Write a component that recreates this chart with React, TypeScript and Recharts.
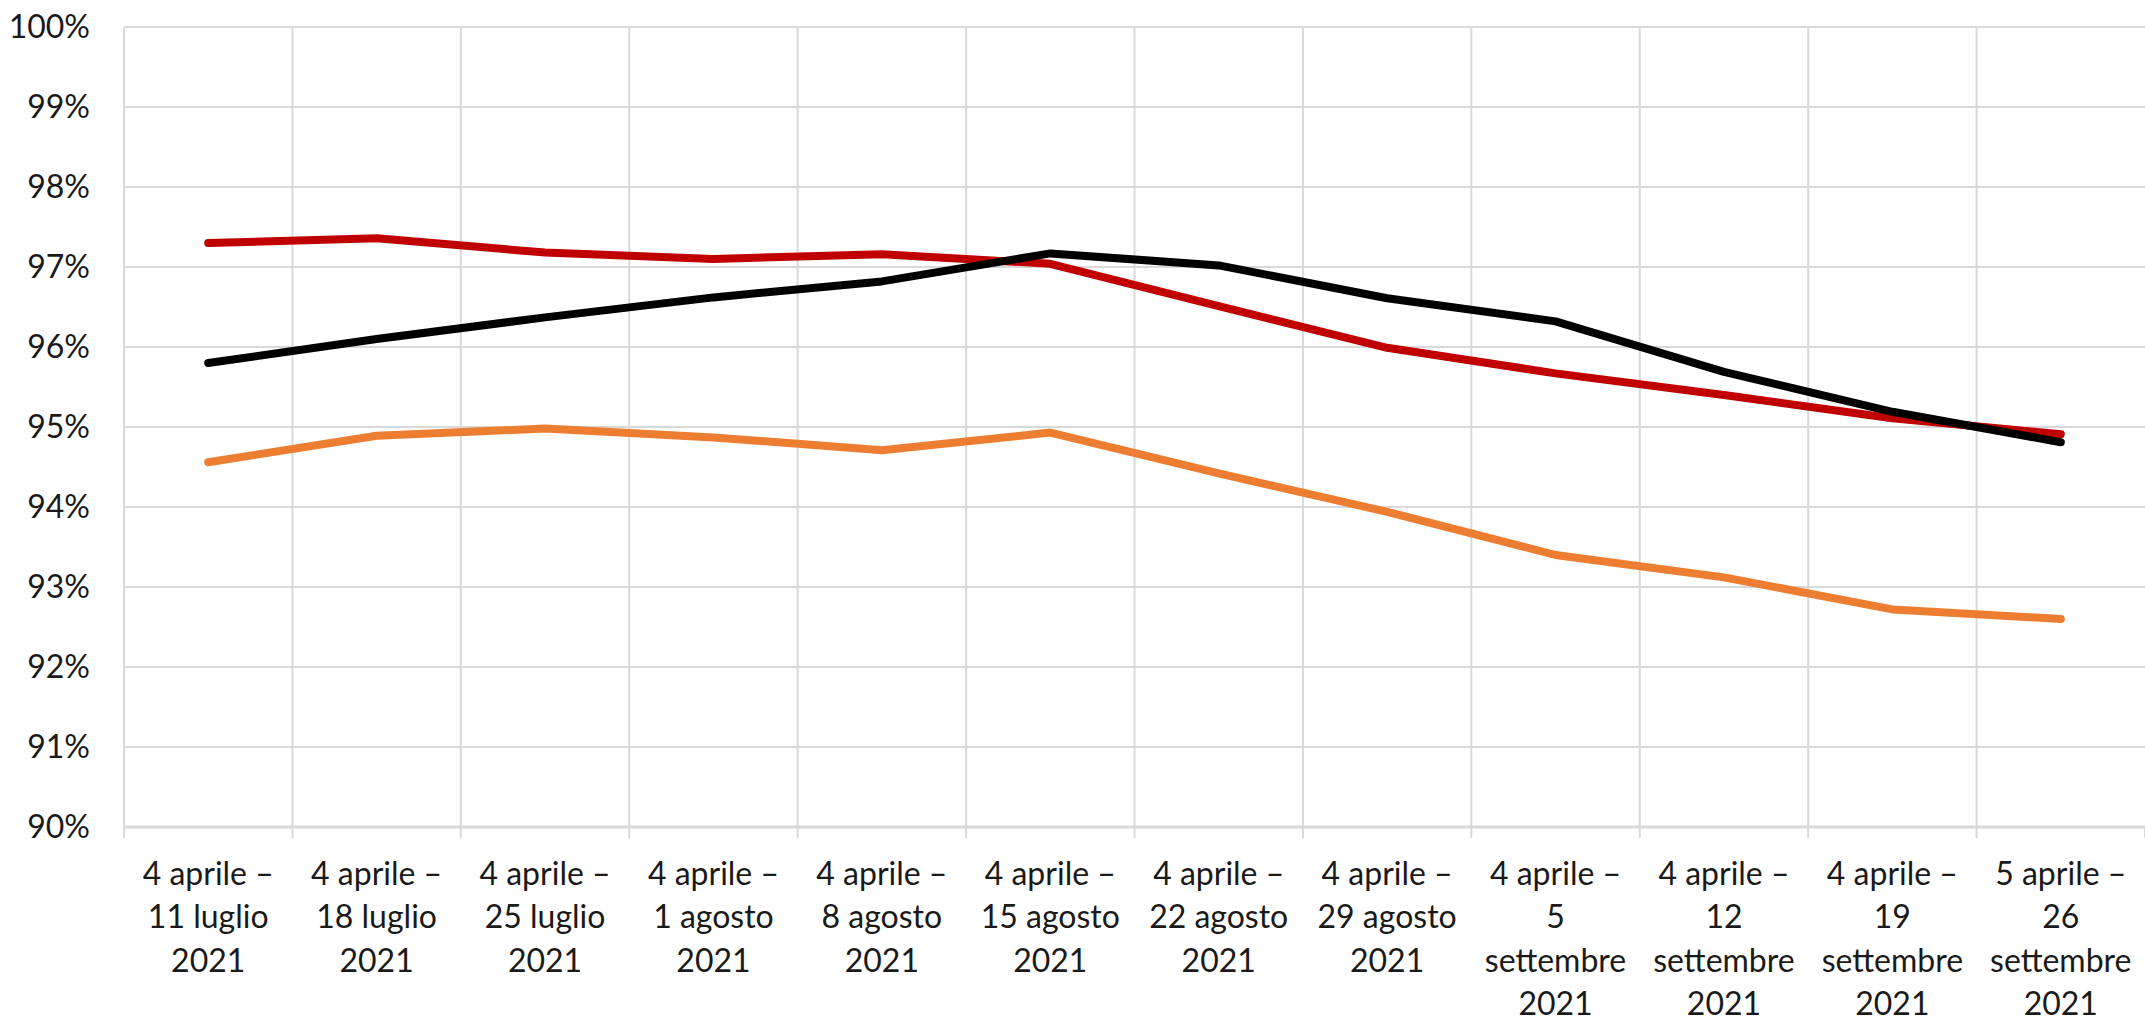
import React from "react";
import { LineChart, Line, XAxis, YAxis, CartesianGrid } from "recharts";

const categories: string[] = [
  "4 aprile –\n11 luglio\n2021",
  "4 aprile –\n18 luglio\n2021",
  "4 aprile –\n25 luglio\n2021",
  "4 aprile –\n1 agosto\n2021",
  "4 aprile –\n8 agosto\n2021",
  "4 aprile –\n15 agosto\n2021",
  "4 aprile –\n22 agosto\n2021",
  "4 aprile –\n29 agosto\n2021",
  "4 aprile –\n5\nsettembre\n2021",
  "4 aprile –\n12\nsettembre\n2021",
  "4 aprile –\n19\nsettembre\n2021",
  "5 aprile –\n26\nsettembre\n2021",
];

const redSeries: number[] = [97.3, 97.36, 97.18, 97.1, 97.16, 97.04, 96.51, 95.99, 95.67, 95.4, 95.11, 94.91];
const blackSeries: number[] = [95.8, 96.1, 96.37, 96.62, 96.82, 97.17, 97.02, 96.61, 96.32, 95.69, 95.19, 94.81];
const orangeSeries: number[] = [94.56, 94.89, 94.98, 94.87, 94.71, 94.93, 94.42, 93.94, 93.4, 93.12, 92.72, 92.6];

const yTicks: number[] = [90, 91, 92, 93, 94, 95, 96, 97, 98, 99, 100];

const data = categories.map((c, i) => ({
  name: c,
  red: redSeries[i],
  black: blackSeries[i],
  orange: orangeSeries[i],
}));

const W = 2145;
const H = 1022;
const LEFT = 124;
const FONT = "Lato, 'Open Sans', sans-serif";
const TEXT_COLOR = "#1a1a1a";
const GRID = "#d9d9d9";
const HALF_BAND = (W - LEFT) / categories.length / 2;

const XTick = (props: any) => {
  const { x, y, payload, index } = props;
  const half = HALF_BAND;
  const lines = String(payload.value).split("\n");
  return (
    <g>
      <line x1={x - half} x2={x - half} y1={y} y2={y + 11} stroke={GRID} strokeWidth={2} />
      {index === categories.length - 1 ? (
        <line x1={x + half} x2={x + half} y1={y} y2={y + 11} stroke={GRID} strokeWidth={2} />
      ) : null}
      {lines.map((l, i) => (
        <text
          key={i}
          x={x}
          y={y + 58 + i * 43.4}
          textAnchor="middle"
          fontFamily={FONT}
          fontSize={32}
          fill={TEXT_COLOR}
        >
          {l}
        </text>
      ))}
    </g>
  );
};

export default function App() {
  return (
    <div style={{ position: "absolute", left: 0, top: 0, width: W, height: H, background: "#fff" }}>
      <LineChart width={W} height={H} data={data} margin={{ top: 27, right: 0, bottom: 0, left: 0 }}>
        <CartesianGrid
          stroke={GRID}
          strokeWidth={2}
          verticalCoordinatesGenerator={({ offset }: any) =>
            categories.map((_, i) => offset.left + (i * offset.width) / categories.length)
          }
        />
        <XAxis
          dataKey="name"
          scale="band"
          interval={0}
          height={195}
          tickSize={0}
          tickMargin={0}
          axisLine={{ stroke: GRID, strokeWidth: 3 }}
          tickLine={false}
          tick={<XTick />}
        />
        <YAxis
          width={LEFT}
          domain={[90, 100]}
          ticks={yTicks}
          interval={0}
          axisLine={false}
          tickLine={false}
          tickSize={0}
          tickMargin={34}
          tickFormatter={(v: number) => `${v}%`}
          tick={{ fontFamily: FONT, fontSize: 32, fill: TEXT_COLOR }}
        />
        <Line
          dataKey="orange"
          stroke="#ED7D31"
          strokeWidth={8}
          dot={false}
          activeDot={false}
          isAnimationActive={false}
          strokeLinecap="round"
          strokeLinejoin="round"
        />
        <Line
          dataKey="red"
          stroke="#C00000"
          strokeWidth={8}
          dot={false}
          activeDot={false}
          isAnimationActive={false}
          strokeLinecap="round"
          strokeLinejoin="round"
        />
        <Line
          dataKey="black"
          stroke="#000000"
          strokeWidth={8}
          dot={false}
          activeDot={false}
          isAnimationActive={false}
          strokeLinecap="round"
          strokeLinejoin="round"
        />
      </LineChart>
    </div>
  );
}
